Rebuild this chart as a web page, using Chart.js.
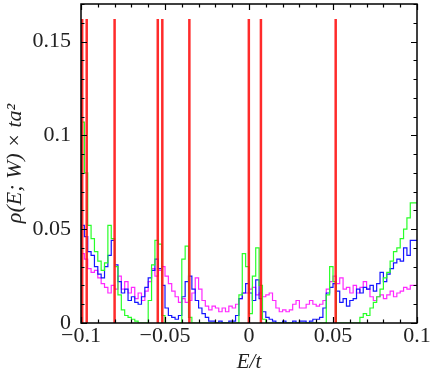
<!DOCTYPE html>
<html>
<head>
<meta charset="utf-8">
<script src="https://cdn.jsdelivr.net/npm/chart.js@4/dist/chart.umd.min.js"></script>
<style>
  html, body { margin: 0; padding: 0; background: #fff; }
  canvas { display: block; }
</style>
</head>
<body>
<canvas id="c" width="436" height="375"></canvas>
<script>
// Histogram bins: left edge of first bin and bin width (E/t)
const binStart = -0.1;
const binWidth = 0.002;

// Green histogram (density per bin)
const greenVals = [
  0.070, 0.107, 0.080, 0.052, 0.045, 0.038, 0.033, 0.028, 0.032, 0.052,
  0.045, 0.030, 0.015, 0.007, 0.004, 0.003, 0.002, 0.001, 0.000, 0.000,
  0.000, 0.012, 0.031, 0.044, 0.042, 0.004, 0.000, 0.000, 0.000, 0.000,
  0.000, 0.034, 0.041, 0.003, 0.000, 0.000, 0.000, 0.000, 0.000, 0.000,
  0.000, 0.000, 0.000, 0.000, 0.000, 0.000, 0.000, 0.000, 0.015, 0.037,
  0.030, 0.005, 0.025, 0.040, 0.020, 0.002, 0.000, 0.000, 0.000, 0.000,
  0.000, 0.000, 0.000, 0.000, 0.000, 0.000, 0.000, 0.000, 0.000, 0.000,
  0.000, 0.000, 0.000, 0.000, 0.015, 0.030, 0.022, 0.000, 0.000, 0.000,
  0.000, 0.000, 0.000, 0.000, 0.003, 0.005, 0.004, 0.008, 0.011, 0.014,
  0.018, 0.024, 0.027, 0.033, 0.038, 0.040, 0.045, 0.050, 0.056, 0.064
];

// Blue histogram
const blueVals = [
  0.049, 0.052, 0.046, 0.038, 0.036, 0.030, 0.026, 0.024, 0.030, 0.036,
  0.044, 0.031, 0.022, 0.016, 0.018, 0.012, 0.014, 0.011, 0.010, 0.014,
  0.019, 0.024, 0.028, 0.034, 0.029, 0.020, 0.008, 0.004, 0.003, 0.002,
  0.004, 0.014, 0.022, 0.025, 0.018, 0.012, 0.008, 0.005, 0.003, 0.001,
  0.001, 0.000, 0.001, 0.000, 0.000, 0.001, 0.001, 0.004, 0.013, 0.016,
  0.021, 0.016, 0.012, 0.023, 0.013, 0.006, 0.003, 0.002, 0.001, 0.000,
  0.000, 0.001, 0.000, 0.000, 0.001, 0.000, 0.001, 0.001, 0.000, 0.001,
  0.002, 0.002, 0.003, 0.008, 0.016, 0.019, 0.021, 0.017, 0.011, 0.013,
  0.009, 0.012, 0.013, 0.018, 0.016, 0.019, 0.018, 0.020, 0.017, 0.021,
  0.027, 0.022, 0.026, 0.029, 0.032, 0.034, 0.033, 0.040, 0.036, 0.044
];

// Magenta histogram
const magentaVals = [
  0.040, 0.037, 0.034, 0.029, 0.027, 0.028, 0.024, 0.021, 0.019, 0.016,
  0.020, 0.018, 0.025, 0.018, 0.022, 0.016, 0.019, 0.013, 0.016, 0.012,
  0.017, 0.022, 0.029, 0.025, 0.028, 0.030, 0.025, 0.021, 0.017, 0.014,
  0.011, 0.013, 0.011, 0.012, 0.016, 0.024, 0.018, 0.012, 0.009, 0.007,
  0.009, 0.008, 0.006, 0.008, 0.006, 0.009, 0.008, 0.010, 0.013, 0.016,
  0.016, 0.018, 0.019, 0.015, 0.016, 0.014, 0.015, 0.016, 0.012, 0.008,
  0.006, 0.007, 0.006, 0.007, 0.010, 0.012, 0.008, 0.008, 0.010, 0.012,
  0.010, 0.009, 0.010, 0.012, 0.018, 0.022, 0.025, 0.021, 0.024, 0.018,
  0.019, 0.016, 0.020, 0.016, 0.019, 0.022, 0.018, 0.014, 0.012, 0.014,
  0.015, 0.013, 0.015, 0.017, 0.014, 0.016, 0.017, 0.019, 0.018, 0.020
];

// Red vertical markers (energies) and their height
const redE = [-0.0993, -0.0966, -0.0800, -0.0543, -0.0516, -0.0355, -0.0001, 0.0071, 0.0516];
const redTop = 0.162;

// Axis ticks
const xTicks = [-0.1, -0.05, 0, 0.05, 0.1];
const yTicks = [0, 0.05, 0.1, 0.15];

function histPoints(vals) {
  const pts = vals.map((v, i) => ({ x: binStart + i * binWidth, y: v }));
  pts.push({ x: binStart + vals.length * binWidth, y: vals[vals.length - 1] });
  return pts;
}
function redPoints() {
  const pts = [];
  redE.forEach(e => { pts.push({ x: e, y: 0 }, { x: e, y: redTop }, { x: e, y: null }); });
  return pts;
}
function fmt(v) {
  const s = String(Math.round(v * 1000) / 1000);
  return s.replace('-', '\u2212');
}

const frameTicks = {
  id: 'frameTicks',
  afterDraw(chart) {
    const { ctx, chartArea: a, scales: { x, y } } = chart;
    ctx.save();
    ctx.strokeStyle = '#000';
    ctx.lineWidth = 1.2;
    for (let i = 0; i <= 20; i++) {
      const v = -0.1 + i * 0.01;
      const px = Math.round(x.getPixelForValue(v)) + 0.5;
      const len = (i % 5 === 0) ? 6 : 3.5;
      ctx.beginPath();
      ctx.moveTo(px, a.bottom); ctx.lineTo(px, a.bottom - len);
      ctx.moveTo(px, a.top); ctx.lineTo(px, a.top + len);
      ctx.stroke();
    }
    for (let i = 0; i <= 17; i++) {
      const v = i * 0.01;
      const py = Math.round(y.getPixelForValue(v)) + 0.5;
      const len = (i % 5 === 0) ? 6 : 3.5;
      ctx.beginPath();
      ctx.moveTo(a.left, py); ctx.lineTo(a.left + len, py);
      ctx.moveTo(a.right, py); ctx.lineTo(a.right - len, py);
      ctx.stroke();
    }
    ctx.lineWidth = 1.5;
    ctx.strokeRect(a.left, a.top, a.right - a.left, a.bottom - a.top);
    ctx.restore();
  }
};

const serif = "'Liberation Serif', 'DejaVu Serif', serif";

new Chart(document.getElementById('c'), {
  type: 'line',
  data: {
    datasets: [
      { data: redPoints(), borderColor: 'rgba(255,20,20,0.9)', borderWidth: 2.5, pointRadius: 0, spanGaps: false },
      { data: histPoints(greenVals), borderColor: 'rgb(40,255,40)', borderWidth: 1.2, pointRadius: 0, stepped: 'after' },
      { data: histPoints(blueVals), borderColor: 'rgb(20,20,255)', borderWidth: 1.2, pointRadius: 0, stepped: 'after' },
      { data: histPoints(magentaVals), borderColor: 'rgb(255,40,255)', borderWidth: 1.2, pointRadius: 0, stepped: 'after' }
    ]
  },
  options: {
    responsive: false,
    animation: false,
    devicePixelRatio: 1,
    layout: { padding: { left: 0, right: 19, top: 4, bottom: 0 } },
    plugins: { legend: { display: false }, tooltip: { enabled: false } },
    scales: {
      x: {
        type: 'linear', min: -0.1, max: 0.1,
        afterBuildTicks: s => { s.ticks = xTicks.map(v => ({ value: v })); },
        afterFit: s => { s.height = 52; s.paddingLeft = 0; s.paddingRight = 0; },
        grid: { display: false, drawTicks: false },
        border: { display: false },
        ticks: { padding: 0, color: '#222', font: { family: serif, size: 22 }, callback: v => fmt(v), maxRotation: 0, autoSkip: false },
        title: { display: true, text: 'E/t', color: '#222', padding: { top: 0, bottom: 0 }, font: { family: serif, size: 21, style: 'italic' } }
      },
      y: {
        type: 'linear', min: 0, max: 0.17,
        afterBuildTicks: s => { s.ticks = yTicks.map(v => ({ value: v })); },
        afterFit: s => { s.width = 81; s.paddingTop = 0; s.paddingBottom = 0; },
        grid: { display: false, drawTicks: false },
        border: { display: false },
        ticks: { padding: 10, color: '#222', font: { family: serif, size: 22 }, callback: v => fmt(v), autoSkip: false },
        title: { display: true, text: 'ρ(E; W) × ta²', color: '#222', padding: { top: 2, bottom: 0 }, font: { family: serif, size: 22, style: 'italic' } }
      }
    }
  },
  plugins: [frameTicks]
});
</script>
</body>
</html>
